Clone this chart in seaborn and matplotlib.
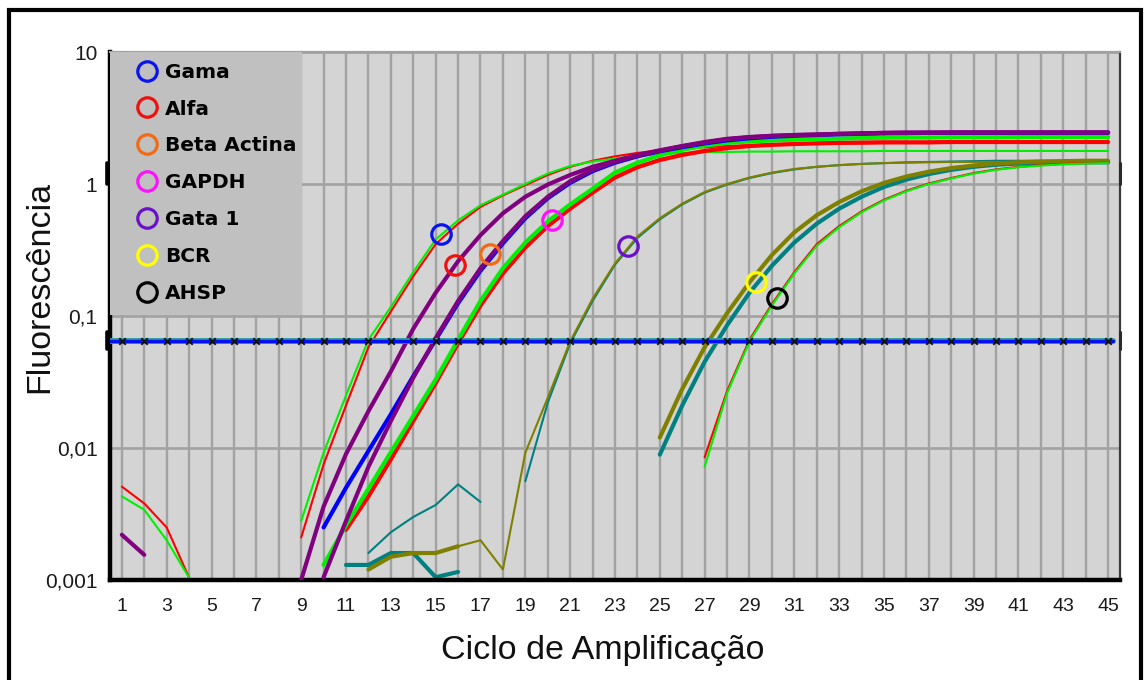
import matplotlib
matplotlib.use("Agg")
import matplotlib.pyplot as plt
import matplotlib.transforms as mtransforms
from matplotlib.lines import Line2D
from matplotlib.patches import Rectangle
from matplotlib.ticker import NullLocator
import seaborn as sns

# ---------------------------------------------------------------- data
threshold = 0.065

# early fast pair (thin)
fast_green_x = list(range(9, 46))
fast_green_y = [0.0028, 0.0092, 0.025, 0.066, 0.117, 0.215, 0.38, 0.53, 0.69, 0.83,
                1.0, 1.2, 1.37, 1.48, 1.56, 1.63, 1.69, 1.72, 1.74, 1.75,
                1.76, 1.76, 1.77, 1.77, 1.77, 1.77, 1.78, 1.78, 1.78, 1.78,
                1.78, 1.78, 1.78, 1.78, 1.78, 1.78, 1.78]
fast_red_x = list(range(9, 46))
fast_red_y = [0.0021, 0.0075, 0.021, 0.058, 0.108, 0.2, 0.35, 0.5, 0.67, 0.82,
              0.98, 1.17, 1.35, 1.5, 1.62, 1.72, 1.8, 1.86, 1.9, 1.94,
              1.97, 2.0, 2.01, 2.02, 2.03, 2.03, 2.04, 2.04, 2.04, 2.05,
              2.05, 2.05, 2.05, 2.05, 2.05, 2.05, 2.05]

# baseline fragments at the start of the run
base_red_x = [1, 2, 3, 4]
base_red_y = [0.0051, 0.0038, 0.0025, 0.00104]
base_green_x = [1, 2, 3, 4]
base_green_y = [0.0043, 0.0034, 0.0020, 0.00104]
base_purple_x = [1, 2]
base_purple_y = [0.0022, 0.00155]

# thick curves
purple_a_x = list(range(9, 46))
purple_a_y = [0.001, 0.0036, 0.009, 0.019, 0.038, 0.08, 0.15, 0.26, 0.41, 0.6,
              0.8, 0.99, 1.17, 1.35, 1.5, 1.66, 1.8, 1.94, 2.08, 2.2,
              2.27, 2.32, 2.35, 2.37, 2.4, 2.42, 2.44, 2.45, 2.45, 2.46,
              2.46, 2.46, 2.46, 2.46, 2.46, 2.46, 2.46]
purple_b_x = list(range(10, 46))
purple_b_y = [0.00105, 0.0028, 0.0072, 0.016, 0.034, 0.068, 0.13, 0.23, 0.37, 0.57,
              0.8, 1.05, 1.28, 1.48, 1.64, 1.79, 1.93, 2.06, 2.18, 2.26,
              2.31, 2.35, 2.37, 2.4, 2.42, 2.44, 2.45, 2.45, 2.46, 2.46,
              2.46, 2.46, 2.46, 2.46, 2.46, 2.46]
blue_x = list(range(10, 46))
blue_y = [0.0025, 0.005, 0.0095, 0.018, 0.035, 0.066, 0.125, 0.22, 0.355, 0.55,
          0.78, 1.02, 1.25, 1.45, 1.62, 1.77, 1.9, 2.03, 2.14, 2.22,
          2.28, 2.32, 2.35, 2.38, 2.4, 2.42, 2.43, 2.44, 2.44, 2.44,
          2.44, 2.44, 2.44, 2.44, 2.44, 2.44]
green_x = list(range(10, 46))
green_y = [0.0013, 0.0026, 0.0049, 0.0093, 0.0175, 0.033, 0.066, 0.13, 0.23, 0.36,
           0.52, 0.7, 0.92, 1.22, 1.45, 1.65, 1.82, 1.95, 2.05, 2.1,
           2.14, 2.17, 2.19, 2.21, 2.23, 2.24, 2.25, 2.25, 2.26, 2.26,
           2.26, 2.27, 2.27, 2.27, 2.27, 2.27]
red_x = list(range(11, 46))
red_y = [0.0024, 0.0043, 0.0082, 0.016, 0.031, 0.062, 0.12, 0.21, 0.33, 0.48,
         0.65, 0.86, 1.12, 1.34, 1.52, 1.66, 1.78, 1.87, 1.94, 1.98,
         2.01, 2.03, 2.05, 2.06, 2.07, 2.07, 2.07, 2.08, 2.08, 2.08,
         2.08, 2.08, 2.08, 2.08, 2.08]

# noise before the middle curve
teal_noise_x = [12, 13, 14, 15, 16, 17]
teal_noise_y = [0.0016, 0.0023, 0.003, 0.0037, 0.0053, 0.0039]
teal_flat_x = [11, 12, 13, 14, 15, 16]
teal_flat_y = [0.0013, 0.0013, 0.0016, 0.0016, 0.00105, 0.00115]
olive_flat_x = [12, 13, 14, 15, 16]
olive_flat_y = [0.0012, 0.0015, 0.0016, 0.0016, 0.0018]

# middle curve
olive_mid_x = list(range(16, 46))
olive_mid_y = [0.0018, 0.002, 0.0012, 0.0092, 0.024, 0.064, 0.135, 0.25, 0.4, 0.55,
               0.71, 0.87, 1.0, 1.12, 1.22, 1.3, 1.35, 1.39, 1.42, 1.44,
               1.45, 1.46, 1.47, 1.47, 1.47, 1.47, 1.47, 1.47, 1.47, 1.47]
teal_mid_x = list(range(19, 46))
teal_mid_y = [0.0056, 0.022, 0.062, 0.13, 0.245, 0.39, 0.54, 0.7, 0.86, 0.99,
              1.11, 1.21, 1.29, 1.35, 1.39, 1.42, 1.44, 1.46, 1.47, 1.48,
              1.49, 1.5, 1.5, 1.5, 1.5, 1.5, 1.5]

# late curves
olive_late_x = list(range(25, 46))
olive_late_y = [0.012, 0.028, 0.058, 0.105, 0.18, 0.29, 0.43, 0.58, 0.73, 0.88,
                1.02, 1.14, 1.24, 1.32, 1.38, 1.43, 1.46, 1.48, 1.49, 1.5, 1.5]
teal_late_x = list(range(25, 46))
teal_late_y = [0.0089, 0.021, 0.045, 0.085, 0.15, 0.24, 0.36, 0.5, 0.65, 0.8,
               0.95, 1.08, 1.19, 1.28, 1.35, 1.4, 1.43, 1.45, 1.46, 1.46, 1.46]
late_green_x = list(range(27, 46))
late_green_y = [0.0072, 0.026, 0.064, 0.12, 0.21, 0.34, 0.47, 0.61, 0.75, 0.88,
                1.0, 1.1, 1.2, 1.28, 1.34, 1.38, 1.41, 1.43, 1.44]
late_red_x = list(range(27, 46))
late_red_y = [0.0085, 0.027, 0.066, 0.123, 0.215, 0.35, 0.48, 0.62, 0.76, 0.89,
              1.01, 1.11, 1.21, 1.29, 1.35, 1.39, 1.42, 1.44, 1.45]

# gene markers
genes = ["Gama", "Alfa", "Beta Actina", "GAPDH", "Gata 1", "BCR", "AHSP"]
gene_colors = ["#0a14f0", "#f01010", "#f26a12", "#ff10ff", "#6a10c8", "#ffff00", "#000000"]
gene_cycle = [15.24, 15.87, 17.43, 20.2, 23.6, 29.3, 30.24]
gene_fluor = [0.418, 0.243, 0.295, 0.533, 0.339, 0.181, 0.137]

x_ticks = list(range(1, 46, 2))
y_ticks = [0.001, 0.01, 0.1, 1, 10]
y_tick_labels = ["0,001", "0,01", "0,1", "1", "10"]

# ---------------------------------------------------------------- style
sns.set_theme(style="white")
plt.rcParams["font.family"] = ["Liberation Sans", "DejaVu Sans"]

PURPLE, BLUE, GREEN, RED = "#800080", "#0000ff", "#00f000", "#ff0000"
OLIVE, TEAL = "#808000", "#008080"
THICK, THIN = 3.0, 1.5

fig = plt.figure(figsize=(11.48, 6.8), dpi=100)
ax = fig.add_axes([0.0958, 0.1471, 0.8798, 0.7764])
ax.set_facecolor("#d4d4d4")
ax.set_yscale("log")
ax.set_xlim(0.47, 45.53)
ax.set_ylim(0.001, 10)

series = [
    (teal_noise_x, teal_noise_y, TEAL, THIN, 2.0),
    (teal_flat_x, teal_flat_y, TEAL, THICK, 2.0),
    (olive_flat_x, olive_flat_y, OLIVE, THICK, 2.1),
    (base_red_x, base_red_y, RED, THIN, 2.0),
    (base_green_x, base_green_y, GREEN, THIN, 2.1),
    (base_purple_x, base_purple_y, PURPLE, THICK, 2.0),
    (teal_mid_x, teal_mid_y, TEAL, THIN, 2.2),
    (olive_mid_x, olive_mid_y, OLIVE, THIN, 2.3),
    (teal_late_x, teal_late_y, TEAL, THICK, 2.4),
    (olive_late_x, olive_late_y, OLIVE, THICK, 2.5),
    (late_red_x, late_red_y, RED, THIN, 2.6),
    (late_green_x, late_green_y, GREEN, THIN, 2.7),
    (fast_red_x, fast_red_y, RED, THIN, 2.8),
    (fast_green_x, fast_green_y, GREEN, THIN, 2.9),
    (red_x, red_y, RED, THICK, 3.0),
    (green_x, green_y, GREEN, THICK, 3.1),
    (blue_x, blue_y, BLUE, THICK, 3.2),
    (purple_b_x, purple_b_y, PURPLE, THICK, 3.3),
    (purple_a_x, purple_a_y, PURPLE, THICK, 3.4),
]
for xs, ys, col, lw, z in series:
    sns.lineplot(x=xs, y=ys, ax=ax, color=col, linewidth=lw, estimator=None,
                 sort=False, legend=False, zorder=z)

# threshold line with cycle marks
ax.axhline(threshold, xmin=0, xmax=0.993, color="#2a9a9a", linewidth=4.2, zorder=6)
ax.axhline(threshold, xmin=0, xmax=0.993, color="#0010f0", linewidth=2.4, zorder=6.1)
sns.scatterplot(x=list(range(1, 46)), y=[threshold] * 45, ax=ax, marker="x",
                color="#101010", s=22, linewidth=1.4, zorder=6.2, legend=False)

# gene markers on the curves
for gx, gy, gc in zip(gene_cycle, gene_fluor, gene_colors):
    ax.plot([gx], [gy], marker="o", markersize=14, markerfacecolor="none",
            markeredgecolor=gc, markeredgewidth=2.3, linestyle="none", zorder=7)

# grid and axes
ax.set_xticks(x_ticks)
ax.set_xticks(list(range(1, 46)), minor=True)
ax.set_yticks(y_ticks)
ax.set_yticklabels(y_tick_labels)
ax.yaxis.set_minor_locator(NullLocator())
ax.set_axisbelow(True)
ax.grid(axis="x", which="both", color="#a2a2a2", linewidth=1.7)
ax.grid(axis="y", which="major", color="#a2a2a2", linewidth=1.9)
ax.tick_params(axis="both", which="both", length=0, labelcolor="#1a1a1a")
ax.tick_params(axis="x", labelsize=14, pad=13)
ax.tick_params(axis="y", labelsize=15, pad=9)

for side in ("left", "bottom"):
    ax.spines[side].set_color("black")
    ax.spines[side].set_linewidth(3.2)
ax.spines["top"].set_color("#a0a0a0")
ax.spines["top"].set_linewidth(1.6)
ax.spines["right"].set_color("#3a3a3a")
ax.spines["right"].set_linewidth(1.6)

ax.set_xlabel("Ciclo de Amplificação", fontsize=24.5, color="#111111")
ax.xaxis.set_label_coords(0.488, -0.104)
ax.set_ylabel("Fluorescência", fontsize=24.5, color="#111111")
ax.yaxis.set_label_coords(-0.0545, 0.555)

# small drag handles at the axis edges
edge = mtransforms.blended_transform_factory(ax.transAxes, ax.transData)
for ylo, yhi in ((1.0, 1.45), (0.056, 0.075)):
    ax.plot([-0.003, -0.003], [ylo, yhi], color="black", linewidth=2.6,
            transform=edge, clip_on=False, zorder=9)
    ax.plot([1.0, 1.0], [ylo, yhi], color="#2a2a2a", linewidth=2.2,
            transform=edge, clip_on=False, zorder=9)

# legend panel
ax.add_patch(Rectangle((0, 0.502), 0.19, 0.498, transform=ax.transAxes,
                       facecolor="#c0c0c0", edgecolor="none", zorder=5))
handles = [Line2D([], [], marker="o", linestyle="none", markersize=14,
                  markerfacecolor="none", markeredgecolor=c, markeredgewidth=2.3)
           for c in gene_colors]
leg = ax.legend(handles, genes, loc="upper left", bbox_to_anchor=(0.0267, 0.980),
                frameon=False, borderpad=0, borderaxespad=0, handlelength=1.0,
                handletextpad=0.4, labelspacing=0.89, labelcolor="black",
                prop={"family": "DejaVu Sans", "weight": "bold", "size": 14.5})
leg.set_zorder(8)

# outer frame
fig.patches.append(Rectangle((0.008, -0.1), 0.986, 1.085, transform=fig.transFigure,
                             fill=False, edgecolor="black", linewidth=3.0))

fig.savefig("out.png", dpi=100)
